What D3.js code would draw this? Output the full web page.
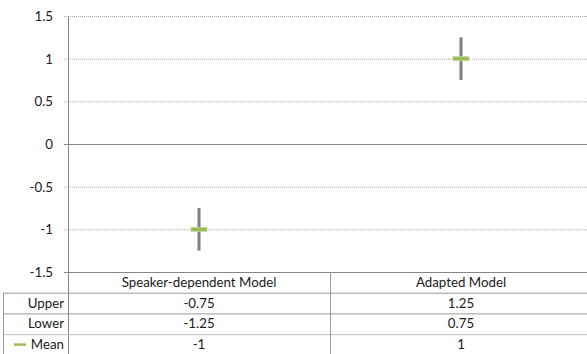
<!DOCTYPE html>
<html><head><meta charset="utf-8">
<script src="https://cdn.jsdelivr.net/npm/d3@7"></script>
<style>body{margin:0;background:#fff}svg{display:block}text{font-family:Lato,"Open Sans",sans-serif;font-size:13.3px;fill:#1a1a1a}</style>
</head><body><svg id="c" width="587" height="354"></svg>
<script>
const categories = ["Speaker-dependent Model", "Adapted Model"];
const upper = [-0.75, 1.25];
const lower = [-1.25, 0.75];
const mean = [-1, 1];
const yTicks = [1.5, 1, 0.5, 0, -0.5, -1, -1.5];
const yTickLabels = ["1.5", "1", "0.5", "0", "-0.5", "-1", "-1.5"];
const rowNames = ["Upper", "Lower", "Mean"];
const rowValues = [["-0.75", "1.25"], ["-1.25", "0.75"], ["-1", "1"]];

const svg = d3.select("#c");
const L = 68, R = 592, T = 16, B = 272;
const x = d3.scaleBand().domain(categories).range([L, R]).padding(0);
const y = d3.scaleLinear().domain([-1.5, 1.5]).range([B, T]);
const grid = "#a6a6a6", axisC = "#868686";

svg.append("g").selectAll("line").data(yTicks).join("line")
  .attr("x1", L - 4).attr("x2", R).attr("y1", d => y(d) + 0.5).attr("y2", d => y(d) + 0.5)
  .attr("stroke", d => (d === 0 || d === -1.5) ? axisC : grid)
  .attr("stroke-dasharray", d => (d === 0 || d === -1.5) ? null : "1,1")
  .attr("stroke-width", 1);
svg.append("g").selectAll("text").data(yTicks).join("text")
  .attr("x", 53).attr("y", d => y(d) + 5).attr("text-anchor", "end")
  .text((d, i) => yTickLabels[i]);
svg.append("line").attr("x1", L + 0.5).attr("x2", L + 0.5).attr("y1", T).attr("y2", 354)
  .attr("stroke", axisC);

const rowH = 20.7;
const tableTop = B;
const tg = svg.append("g");
[1, 2, 3].forEach(i => {
  tg.append("line").attr("x1", 3).attr("x2", R).attr("y1", tableTop + i * rowH + 0.5).attr("y2", tableTop + i * rowH + 0.5)
    .attr("stroke", i === 3 ? "#c0c0c0" : "#9a9a9a");
});
tg.append("line").attr("x1", 3.5).attr("x2", 3.5).attr("y1", tableTop + rowH).attr("y2", 354).attr("stroke", "#9a9a9a");
tg.append("line").attr("x1", x(categories[1]) + 0.5).attr("x2", x(categories[1]) + 0.5).attr("y1", tableTop).attr("y2", 354).attr("stroke", "#9a9a9a");
tg.selectAll("text.h").data(categories).join("text").attr("class", "h")
  .attr("x", d => x(d) + x.bandwidth() / 2).attr("y", tableTop + 15).attr("text-anchor", "middle").text(d => d);
tg.selectAll("text.r").data(rowNames).join("text").attr("class", "r")
  .attr("x", 64).attr("y", (d, i) => tableTop + (i + 1) * rowH + 15).attr("text-anchor", "end").text(d => d);
tg.append("line").attr("x1", 14).attr("x2", 26).attr("y1", tableTop + 3 * rowH + 10.5).attr("y2", tableTop + 3 * rowH + 10.5)
  .attr("stroke", "#9bbb59").attr("stroke-width", 2.5);
rowValues.forEach((vals, i) => {
  vals.forEach((v, j) => {
    tg.append("text").attr("x", x(categories[j]) + x.bandwidth() / 2).attr("y", tableTop + (i + 1) * rowH + 15)
      .attr("text-anchor", "middle").text(v);
  });
});

const g = svg.append("g");
g.selectAll("line.hl").data(categories).join("line").attr("class", "hl")
  .attr("x1", d => x(d) + x.bandwidth() / 2).attr("x2", d => x(d) + x.bandwidth() / 2)
  .attr("y1", (d, i) => y(upper[i])).attr("y2", (d, i) => y(lower[i]))
  .attr("stroke", "#7f7f7f").attr("stroke-width", 3);
g.selectAll("rect.m").data(categories).join("rect").attr("class", "m")
  .attr("x", d => x(d) + x.bandwidth() / 2 - 8).attr("width", 16)
  .attr("y", (d, i) => y(mean[i]) - 2).attr("height", 4)
  .attr("fill", "#9bbb59").attr("stroke", "#c4d89a").attr("stroke-width", 0.8);
</script></body></html>
